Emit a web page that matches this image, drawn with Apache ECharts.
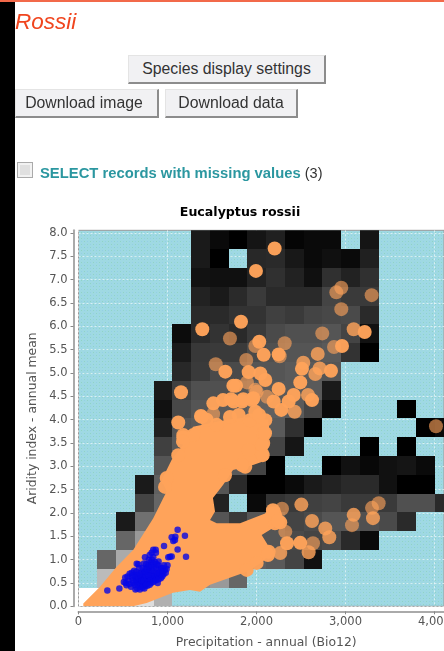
<!DOCTYPE html>
<html><head><meta charset="utf-8">
<script src="https://cdn.jsdelivr.net/npm/echarts@6/dist/echarts.min.js"></script>
<style>
html,body{margin:0;padding:0;background:#fff;width:444px;height:651px;overflow:hidden;font-family:"Liberation Sans",Arial,sans-serif}
#chart{position:absolute;left:0;top:0;width:444px;height:651px}
.abs{position:absolute}
.btn{position:absolute;box-sizing:border-box;background:#f1f1f3;border-top:1px solid #e4e4e4;border-left:1px solid #e4e4e4;border-right:2px solid #8c8c8c;border-bottom:2px solid #8c8c8c;color:#333;font-size:15.8px;text-align:center;line-height:25px}
</style></head><body>
<div id="chart"></div>
<div class="abs" style="left:0;top:0;width:444px;height:2px;background:#f2694a"></div>
<div class="abs" style="left:0;top:2px;width:15px;height:649px;background:#000"></div>
<div class="abs" style="left:15px;top:9px;font-size:22.5px;font-style:italic;color:#f0451e;line-height:26px">Rossii</div>
<div class="btn" style="left:128px;top:55px;width:198px;height:29px">Species display settings</div>
<div class="btn" style="left:15px;top:89px;width:144px;height:29px;padding-right:5px">Download image</div>
<div class="btn" style="left:165px;top:89px;width:133px;height:29px">Download data</div>
<div class="abs" style="left:17px;top:162px;width:16px;height:16px;box-sizing:border-box;border:1px solid #aaa;background:#e0e0e0;box-shadow:inset 0 0 0 2px #f2f2f2"></div>
<div class="abs" style="left:40px;top:164px;font-size:14.8px;line-height:18px;font-weight:bold;color:#2b97a0;white-space:nowrap">SELECT records with missing values <span style="font-weight:normal;color:#333;font-size:14.5px">(3)</span></div>
<script>
const n = null;
const cellW = 210.8, cellH = 0.403;
// Grey level of each density cell, top row first; null = no cell
const gridRows = [
 [n,n,n,n,n,n,0x1a,0x0a,0x00,0x15,0x20,0x05,0x0a,0x0a,n,0x15,n,n,n,n],
 [n,n,n,n,n,n,0x1a,0x00,n,0x28,0x2a,0x18,0x0a,0x10,0x0a,0x20,n,n,n,n],
 [n,n,n,n,n,n,0x12,0x10,0x10,0x22,0x30,0x22,0x10,0x30,0x22,0x30,n,n,n,n],
 [n,n,n,n,n,n,0x22,0x1a,0x2a,0x3a,0x2a,0x2a,0x2a,0x44,0x3a,0x3a,n,n,n,n],
 [n,n,n,n,n,n,0x2a,0x2a,0x33,0x33,0x40,0x3a,0x44,0x48,0x4a,0x2a,n,n,n,n],
 [n,n,n,n,n,0x0c,0x2a,0x33,0x2a,0x3a,0x4a,0x50,0x50,0x55,0x44,0x11,n,n,n,n],
 [n,n,n,n,n,0x1a,0x38,0x3a,0x3a,0x4a,0x50,0x55,0x55,0x5a,0x33,0x00,n,n,n,n],
 [n,n,n,n,n,0x28,0x3a,0x4a,0x4a,0x55,0x55,0x5a,0x5a,0x55,n,n,n,n,n,n],
 [n,n,n,n,0x1a,0x40,0x50,0x50,0x55,0x5a,0x5a,0x5a,0x5a,0x1a,n,n,n,n,n,n],
 [n,n,n,n,0x11,0x48,0x55,0x5a,0x5a,0x60,0x60,0x5a,0x44,0x0a,n,n,n,0x00,n,n],
 [n,n,n,n,0x20,0x55,0x5a,0x5a,0x5a,0x5a,0x5a,0x30,0x00,n,n,n,n,n,0x00,0x0a],
 [n,n,n,n,0x40,0x5a,0x60,0x60,0x60,0x5a,0x44,0x15,n,n,n,0x00,n,0x00,n,n],
 [n,n,n,n,0x55,0x60,0x60,0x60,0x5a,0x44,0x00,n,n,0x00,0x11,0x08,0x11,0x15,0x0a,n],
 [n,n,n,0x1a,0x60,0x60,0x60,0x55,0x2a,0x00,0x00,0x0a,0x1a,0x22,0x2a,0x2a,0x11,0x00,0x00,n],
 [n,n,n,0x44,0x66,0x60,0x60,0x22,n,0x0a,0x33,0x3a,0x40,0x44,0x3a,0x3a,0x3a,0x50,0x50,0x2a],
 [n,n,0x1a,0x70,0x70,0x60,0x60,0x55,0x3a,0x55,0x55,0x44,0x4a,0x55,0x55,0x50,0x4a,0x2a,n,n],
 [n,n,0x66,0x99,0x80,0x70,0x66,0x60,0x55,0x55,0x55,0x4a,0x44,0x4a,0x2a,0x0a,n,n,n,n],
 [n,0x66,0xaa,0x99,0x80,0x70,0x70,0x66,0x60,0x60,0x5a,0x44,0x11,n,n,n,n,n,n,n],
 [n,0xbb,0xcc,0xb0,0xa0,0x90,0x90,0x99,0x66,n,n,n,n,n,n,n,n,n,n,n],
 [0xff,0xff,0xe0,0xdd,0xb0,n,n,n,n,n,n,n,n,n,n,n,n,n,n,n]
];
// Outline of the solid mass of overlapping records [precipitation, aridity]
const massOutline = [[54,0],[54,0.06],[242,0.42],[429,0.85],[616,1.21],[840,1.89],[953,2.32],[991,2.46],[935,2.71],[1047,3.14],[1174,3.46],[1103,3.6],[1216,3.64],[1287,3.85],[1421,3.9],[1665,4.0],[1927,4.05],[2130,4.0],[2152,3.71],[2115,3.53],[2129,3.14],[1961,3.03],[1736,2.92],[1624,2.6],[1511,2.32],[1534,2.03],[1478,1.85],[1553,1.78],[1815,1.78],[2096,1.99],[2152,2.14],[2264,2.11],[2298,1.81],[2058,1.53],[2129,1.31],[2185,1.21],[2073,0.96],[1890,0.74],[1478,0.46],[1365,0.31],[1253,0.35],[1062,0.29],[766,0.07],[612,0]];
// Individual all-species records, by how opaque they appear
const pointsBright = [[2204,7.67],[1994,7.19],[1826,6.1],[3216,5.88],[2961,5.58],[2031,5.67],[2081,5.39],[2249,5.4],[2511,5.09],[2837,5.05],[2492,4.8],[1912,5.02],[2043,4.99],[1770,4.73],[2099,4.85],[2249,4.66],[2418,4.53],[2362,4.39],[2624,4.42],[2279,4.21],[2193,4.39],[1949,4.42],[1837,4.39],[1744,4.39],[2099,3.99],[1987,4.17],[1391,5.94],[1650,5.03],[1152,4.59],[1740,4.73],[1515,4.35],[1121,3.94],[1384,4.06],[1624,4.42],[1178,3.67],[1713,4.44],[1852,4.44],[1964,4.46],[1376,4.08],[1178,3.62],[1121,3.24],[2058,3.28],[2076,3.5],[2076,3.71],[2070,3.24],[1874,2.99],[2193,1.99],[2208,1.78],[2208,1.96],[2267,1.8],[2492,1.36],[2343,1.35],[2137,1.17],[2062,3.46],[1912,3.35],[1837,3.03],[1553,3.89],[1702,4.06],[1927,3.99],[2096,3.71],[1290,3.67],[991,2.75],[1174,3.53],[972,2.56],[1646,2.81],[2185,2.06],[2242,1.83],[2129,1.1],[2002,0.93],[1890,0.78],[1440,4.0],[1800,4.1],[2030,4.1]];
const pointsSemi = [[3092,5.94],[2688,5.41],[2526,5.22],[2710,5.1],[2661,4.98],[2579,4.53],[2429,4.17],[2504,2.18],[2624,1.83],[2773,1.67],[2818,1.48],[3092,1.96],[3309,1.89],[2586,1.16],[2267,1.14]];
const pointsDim = [[2953,6.83],[2897,6.73],[3294,6.67],[2953,6.37],[2739,5.85],[2871,5.56],[2317,5.64],[1987,5.58],[2261,5.36],[1885,5.28],[1893,4.8],[2118,4.49],[1987,4.64],[4017,3.86],[1702,5.74],[1542,5.19],[1513,4.12],[2002,4.6],[2287,2.09],[3073,1.74],[3298,2.11],[3373,2.21],[2324,1.6],[2635,1.35]];
// Records of Eucalyptus rossii
const pointsRossii = [[324,0.34],[459,0.38],[1114,1.64],[1196,1.51],[1047,1.48],[1088,1.49],[1084,1.42],[1065,1.4],[961,1.29],[1114,1.22],[1208,1.06],[1009,1.05],[1047,1.07],[1028,1.06],[840,1.21],[867,1.21],[822,1.15],[747,1.05],[672,0.9],[654,0.91],[510,0.52],[525,0.62],[540,0.45],[560,0.55],[575,0.7],[590,0.42],[600,0.62],[615,0.5],[625,0.76],[640,0.36],[645,0.58],[660,0.68],[665,0.45],[680,0.82],[690,0.36],[695,0.56],[705,0.72],[715,0.48],[725,0.62],[735,0.92],[740,0.38],[750,0.8],[760,0.55],[770,0.68],[775,0.44],[785,0.88],[795,0.6],[805,0.74],[815,0.5],[825,1.0],[830,0.66],[845,0.84],[855,0.56],[860,0.95],[870,0.72],[880,0.62],[890,0.5],[895,0.88],[905,0.78],[915,0.66],[925,0.6],[935,0.72],[945,0.82],[955,0.68],[970,0.78],[980,0.72],[600,0.72],[550,0.64],[630,0.46],[680,0.55],[720,0.7],[760,0.9],[790,0.75],[820,0.6],[850,0.72],[810,0.95],[770,0.58],[730,0.5],[700,0.62],[650,0.52],[790,1.0],[840,1.05],[870,1.15],[800,1.1],[900,0.96],[530,0.5],[570,0.48],[610,0.56],[640,0.64],[670,0.6],[690,0.48],[710,0.55],[735,0.56],[745,0.44],[755,0.66],[780,0.52],[790,0.66],[810,0.56],[830,0.78],[840,0.62],[860,0.64],[875,0.82],[890,0.68],[910,0.72],[930,0.82],[950,0.76],[700,0.42],[720,0.4],[660,0.38],[610,0.66],[650,0.74],[690,0.7],[720,0.82],[745,0.74],[770,0.8],[795,0.84],[820,0.88],[850,0.92],[880,0.9],[760,0.46],[800,0.46],[840,0.52],[870,0.56],[900,0.58],[940,0.64],[990,0.8],[1000,0.88],[960,0.88]];
const xTicks = [0,1000,2000,3000,4000];
const yTicks = [0,0.5,1,1.5,2,2.5,3,3.5,4,4.5,5,5.5,6,6.5,7,7.5,8];
const chartTitle = 'Eucalyptus rossii', xName = 'Precipitation - annual (Bio12)', yName = 'Aridity index - annual mean';

const cells = [];
gridRows.forEach((row, r) => row.forEach((g, c) => {
  if (g !== null) cells.push([c * cellW, (gridRows.length - 1 - r) * cellH, (c + 1) * cellW, (gridRows.length - r) * cellH, g]);
}));

// speckled background texture of the plot
const tex = document.createElement('canvas'); tex.width = 6; tex.height = 6;
const t = tex.getContext('2d');
t.fillStyle = '#9fd9e3'; t.fillRect(0,0,6,6);
t.fillStyle = '#90d3c4'; t.fillRect(0,1,1,1); t.fillRect(3,4,1,1);
t.fillStyle = '#93cfe6'; t.fillRect(3,1,1,1); t.fillRect(0,4,1,1);

const font = 'DejaVu Sans', grey = '#555';
const axisCommon = {
  axisLine:{show:true,onZero:false,lineStyle:{color:'#aaa',width:2}},
  axisTick:{show:true,length:3,lineStyle:{color:'#888',width:1}},
  nameLocation:'middle',
  nameTextStyle:{fontFamily:font,fontSize:12.4,color:grey},
  splitLine:{show:true,lineStyle:{color:'rgba(255,255,255,0.6)',type:[2,2],width:1}}
};
const chart = echarts.init(document.getElementById('chart'),null,{renderer:'canvas'});
chart.setOption({
  animation:false,
  title:{text:chartTitle,left:235,top:200,textAlign:'center',textStyle:{fontFamily:font,fontSize:12.6,fontWeight:'bold',color:'#000',lineHeight:16}},
  grid:{left:78.5,top:230.3,width:365.5,height:376,outerBoundsMode:'none',containLabel:false,show:true,backgroundColor:{image:tex,repeat:'repeat'},borderColor:'#999',borderWidth:1},
  xAxis:Object.assign({},axisCommon,{type:'value',min:0,max:4107,interval:1000,offset:5,name:xName,nameGap:25,
    nameTextStyle:Object.assign({},axisCommon.nameTextStyle,{padding:[0,0,0,10]}),
    axisLabel:{fontFamily:font,fontSize:11.5,color:grey,margin:5,customValues:xTicks,formatter:v=>v.toLocaleString('en-US')},
    axisTick:Object.assign({},axisCommon.axisTick,{customValues:xTicks})}),
  yAxis:Object.assign({},axisCommon,{type:'value',min:0,max:8.06,interval:0.5,offset:5,name:yName,nameGap:34,
    axisLabel:{fontFamily:font,fontSize:11.5,color:grey,margin:6,customValues:yTicks,formatter:v=>v.toFixed(1)},
    axisTick:Object.assign({},axisCommon.axisTick,{customValues:yTicks})}),
  series:[
    {type:'custom',clip:true,silent:true,z:1,data:cells,encode:{x:[0,2],y:[1,3]},
      renderItem:(p,api)=>{
        const a=api.coord([api.value(0),api.value(3)]),b=api.coord([api.value(2),api.value(1)]);
        const g=api.value(4), x=Math.round(a[0]), y=Math.round(a[1]);
        return {type:'rect',shape:{x:x,y:y,width:Math.round(b[0])-x,height:Math.round(b[1])-y},style:{fill:`rgb(${g},${g},${g})`,stroke:null}};
      }},
    {type:'custom',clip:true,silent:true,z:2,data:[0],
      renderItem:(p,api)=>({type:'polygon',shape:{points:massOutline.map(d=>api.coord(d))},style:{fill:'#ffa35a'}})},
    {type:'scatter',z:3,silent:true,symbolSize:14,data:pointsDim,itemStyle:{color:'#ffa35a',opacity:0.62}},
    {type:'scatter',z:4,silent:true,symbolSize:14,data:pointsSemi,itemStyle:{color:'#ffa35a',opacity:0.82}},
    {type:'scatter',z:5,silent:true,symbolSize:14,data:pointsBright,itemStyle:{color:'#ffa35a',opacity:0.97}},
    {type:'scatter',z:6,silent:true,symbolSize:6.5,data:pointsRossii,itemStyle:{color:'#0808e6'}}
  ]
});
</script>
</body></html>
